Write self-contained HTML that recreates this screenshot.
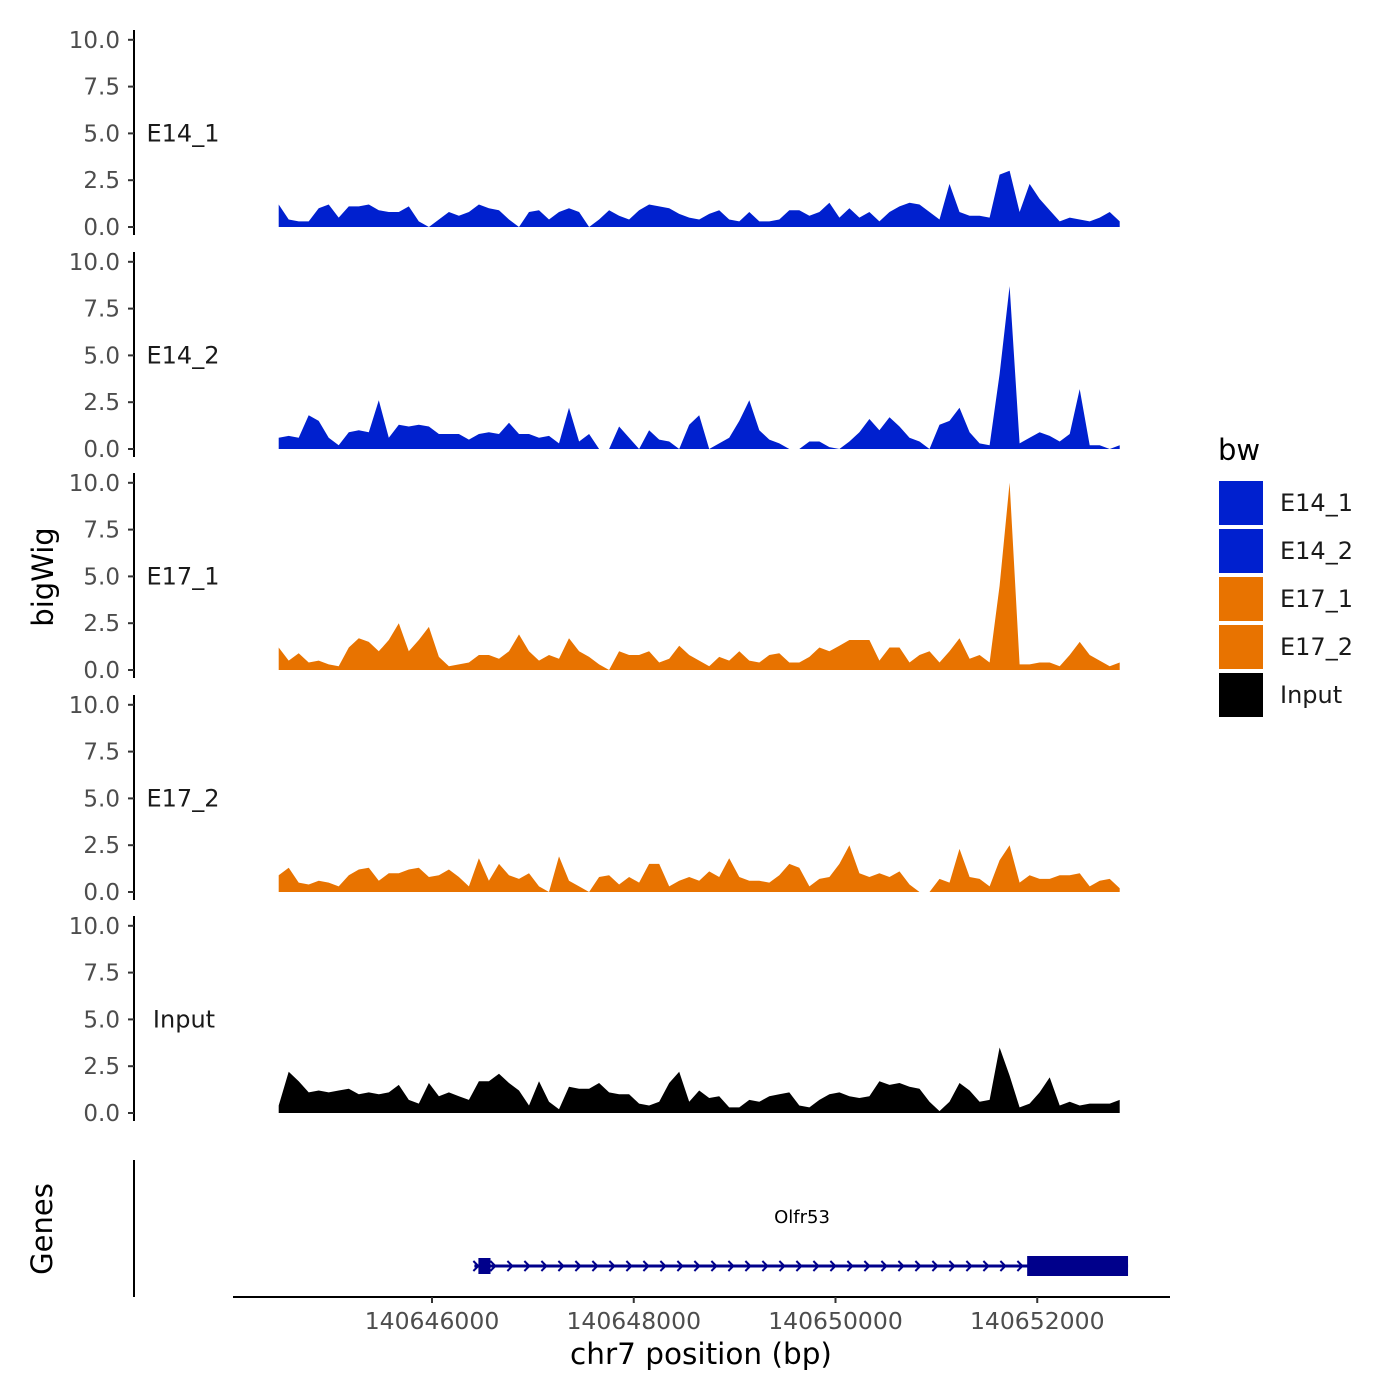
<!DOCTYPE html>
<html><head><meta charset="utf-8"><style>
body{margin:0;background:#fff;}
svg{display:block;font-family:"DejaVu Sans","Liberation Sans",sans-serif;}
</style></head><body>
<svg id="chart" width="1400" height="1400" viewBox="0 0 1400 1400" xmlns="http://www.w3.org/2000/svg"></svg>
<script>
const trackNames = ["E14_1","E14_2","E17_1","E17_2","Input"];
const trackColors = ["#0020cf","#0020cf","#e87300","#e87300","#000000"];
const binStart = 140644480, binStep = 99.26;
const sE14_1 = [1.2,0.4,0.3,0.3,1.0,1.2,0.5,1.1,1.1,1.2,0.9,0.8,0.8,1.1,0.3,0,0.4,0.8,0.6,0.8,1.2,1.0,0.9,0.4,0,0.8,0.9,0.4,0.8,1.0,0.8,0,0.4,0.9,0.6,0.4,0.9,1.2,1.1,1.0,0.7,0.5,0.4,0.7,0.9,0.4,0.3,0.8,0.3,0.3,0.4,0.9,0.9,0.6,0.8,1.3,0.5,1.0,0.5,0.8,0.3,0.8,1.1,1.3,1.2,0.8,0.4,2.3,0.8,0.6,0.6,0.5,2.8,3.0,0.8,2.3,1.5,0.9,0.3,0.5,0.4,0.3,0.5,0.8,0.3];
const sE14_2 = [0.6,0.7,0.6,1.8,1.5,0.6,0.2,0.9,1.0,0.9,2.6,0.6,1.3,1.2,1.3,1.2,0.8,0.8,0.8,0.5,0.8,0.9,0.8,1.4,0.8,0.8,0.6,0.7,0.3,2.2,0.4,0.8,0,0,1.2,0.6,0,1.0,0.5,0.4,0,1.3,1.8,0,0.3,0.6,1.5,2.6,1.0,0.5,0.3,0,0,0.4,0.4,0.1,0,0.4,0.9,1.6,1.0,1.7,1.2,0.6,0.4,0,1.3,1.5,2.2,0.9,0.3,0.2,4.0,8.7,0.3,0.6,0.9,0.7,0.4,0.8,3.2,0.2,0.2,0,0.2];
const sE17_1 = [1.2,0.5,0.9,0.4,0.5,0.3,0.2,1.2,1.7,1.5,1.0,1.6,2.5,1.0,1.6,2.3,0.7,0.2,0.3,0.4,0.8,0.8,0.6,1.0,1.9,1.0,0.5,0.8,0.6,1.7,1.0,0.7,0.3,0,1.0,0.8,0.8,1.0,0.4,0.6,1.3,0.8,0.5,0.2,0.7,0.5,1.0,0.5,0.4,0.8,0.9,0.4,0.4,0.7,1.2,1.0,1.3,1.6,1.6,1.6,0.5,1.2,1.2,0.4,0.8,1.0,0.4,1.0,1.7,0.6,0.8,0.4,4.5,10.0,0.3,0.3,0.4,0.4,0.2,0.8,1.5,0.8,0.5,0.2,0.4];
const sE17_2 = [0.9,1.3,0.5,0.4,0.6,0.5,0.3,0.9,1.2,1.3,0.6,1.0,1.0,1.2,1.3,0.8,0.9,1.2,0.8,0.3,1.8,0.6,1.5,0.9,0.7,1.0,0.3,0,1.9,0.6,0.3,0,0.8,0.9,0.4,0.8,0.5,1.5,1.5,0.3,0.6,0.8,0.6,1.1,0.8,1.8,0.8,0.6,0.6,0.5,0.9,1.5,1.3,0.3,0.7,0.8,1.5,2.5,1.0,0.8,1.0,0.8,1.1,0.4,0,0,0.7,0.5,2.3,0.8,0.7,0.3,1.7,2.5,0.5,0.9,0.7,0.7,0.9,0.9,1.0,0.3,0.6,0.7,0.2];
const sInput = [0.4,2.2,1.7,1.1,1.2,1.1,1.2,1.3,1.0,1.1,1.0,1.1,1.5,0.7,0.5,1.6,0.9,1.1,0.9,0.7,1.7,1.7,2.1,1.6,1.2,0.4,1.7,0.6,0.2,1.4,1.3,1.3,1.6,1.1,1.0,1.0,0.5,0.4,0.6,1.6,2.2,0.6,1.2,0.8,0.9,0.3,0.3,0.7,0.6,0.9,1.0,1.1,0.4,0.3,0.7,1.0,1.1,0.9,0.8,0.9,1.7,1.5,1.6,1.4,1.3,0.6,0.1,0.6,1.6,1.2,0.6,0.7,3.5,2.0,0.3,0.5,1.1,1.9,0.4,0.6,0.4,0.5,0.5,0.5,0.7];
const seriesValues = [sE14_1,sE14_2,sE17_1,sE17_2,sInput];
const yTicks = ["0.0","2.5","5.0","7.5","10.0"];
const xTicks = [140646000,140648000,140650000,140652000];
const geneName = "Olfr53";
const geneStart = 140646420, geneEnd = 140652900, cdsStart = 140651900, utrBoxStart = 140646460, utrBoxEnd = 140646580;

const NS="http://www.w3.org/2000/svg";
const svg=document.getElementById('chart');
function mk(tag,attrs,parent){const e=document.createElementNS(NS,tag);for(const k in attrs)e.setAttribute(k,attrs[k]);(parent||svg).appendChild(e);return e;}
const xS = bp => 432 + (bp-140646000)*0.100875;
const panelBase = [227,449,670,892,1113];
const yS = (p,v) => panelBase[p] - v*18.72;

for(let p=0;p<5;p++){
  const g=mk('g',{});
  
  
  const ax=mk('line',{x1:134,x2:134,y1:panelBase[p]-197,y2:panelBase[p]+8,stroke:'#000','stroke-width':2},g);
  
  
  yTicks.forEach((t,i)=>{
    const y=yS(p,parseFloat(t));
    const tk=mk('line',{x1:128,x2:134,y1:y,y2:y,stroke:'#333','stroke-width':2},g);
    
    
    const tl=mk('text',{x:120,y:y+8,'text-anchor':'end','font-size':23,fill:'#4d4d4d'},g);
    tl.textContent=t;
    
    
  });
  const lab=mk('text',{x:p==4?184:183,y:yS(p,5)+8,'text-anchor':'middle','font-size':24,fill:'#1a1a1a'},g);
  lab.textContent=trackNames[p];
  
  
  const vals=seriesValues[p];
  let d='M'+xS(binStart).toFixed(1)+','+panelBase[p];
  vals.forEach((v,i)=>{d+=' L'+xS(binStart+i*binStep).toFixed(1)+','+yS(p,v).toFixed(1);});
  d+=' L'+xS(binStart+(vals.length-1)*binStep).toFixed(1)+','+panelBase[p]+' Z';
  const area=mk('path',{d:d,fill:trackColors[p],'stroke-linejoin':'round'},g);
  
  
}
const yt=mk('text',{x:0,y:0,transform:'translate(53,577) rotate(-90)','text-anchor':'middle','font-size':29,fill:'#000'});
yt.textContent='bigWig';



const gp=mk('g',{});


const gax=mk('line',{x1:134,x2:134,y1:1160,y2:1297,stroke:'#000','stroke-width':2},gp);


const gt=mk('text',{x:0,y:0,transform:'translate(52,1229) rotate(-90)','text-anchor':'middle','font-size':29,fill:'#000'},gp);
gt.textContent='Genes';


const xax=mk('line',{x1:233,x2:1170,y1:1297,y2:1297,stroke:'#000','stroke-width':2},gp);


xTicks.forEach(t=>{
  const x=xS(t);
  const tk=mk('line',{x1:x,x2:x,y1:1297,y2:1303,stroke:'#333','stroke-width':2},gp);
  
  
  const tl=mk('text',{x:x,y:1329,'text-anchor':'middle','font-size':23.5,fill:'#4d4d4d'},gp);
  tl.textContent=t;
  
  
});
const xt=mk('text',{x:701,y:1364,'text-anchor':'middle','font-size':29.5,fill:'#000'},gp);
xt.textContent='chr7 position (bp)';


const gl=mk('line',{x1:xS(geneStart),x2:xS(geneEnd),y1:1266,y2:1266,stroke:'#00008b','stroke-width':3},gp);


for(let x=xS(geneStart)+2;x<xS(geneEnd)-8;x+=17){
  const c=mk('path',{d:`M${x-3},1261 L${x+2},1266 L${x-3},1271`,fill:'none',stroke:'#00008b','stroke-width':2},gp);
  
  
}
const ub=mk('rect',{x:xS(utrBoxStart),y:1258,width:xS(utrBoxEnd)-xS(utrBoxStart),height:16,fill:'#00008b'},gp);


const cb=mk('rect',{x:xS(cdsStart),y:1256,width:xS(geneEnd)-xS(cdsStart),height:20,fill:'#00008b'},gp);


const gn=mk('text',{x:802,y:1223,'text-anchor':'middle','font-size':18,fill:'#000'},gp);
gn.textContent=geneName;



const lg=mk('g',{});


const lt=mk('text',{x:1218,y:460,'font-size':29,fill:'#000'},lg);
lt.textContent='bw';


trackNames.forEach((n,i)=>{
  const r=mk('rect',{x:1219,y:481+i*48,width:44,height:44,fill:trackColors[i]},lg);
  
  
  const t=mk('text',{x:1280,y:511+i*48,'font-size':24,fill:'#1a1a1a'},lg);
  t.textContent=n;
  
  
});
</script>
</body></html>
